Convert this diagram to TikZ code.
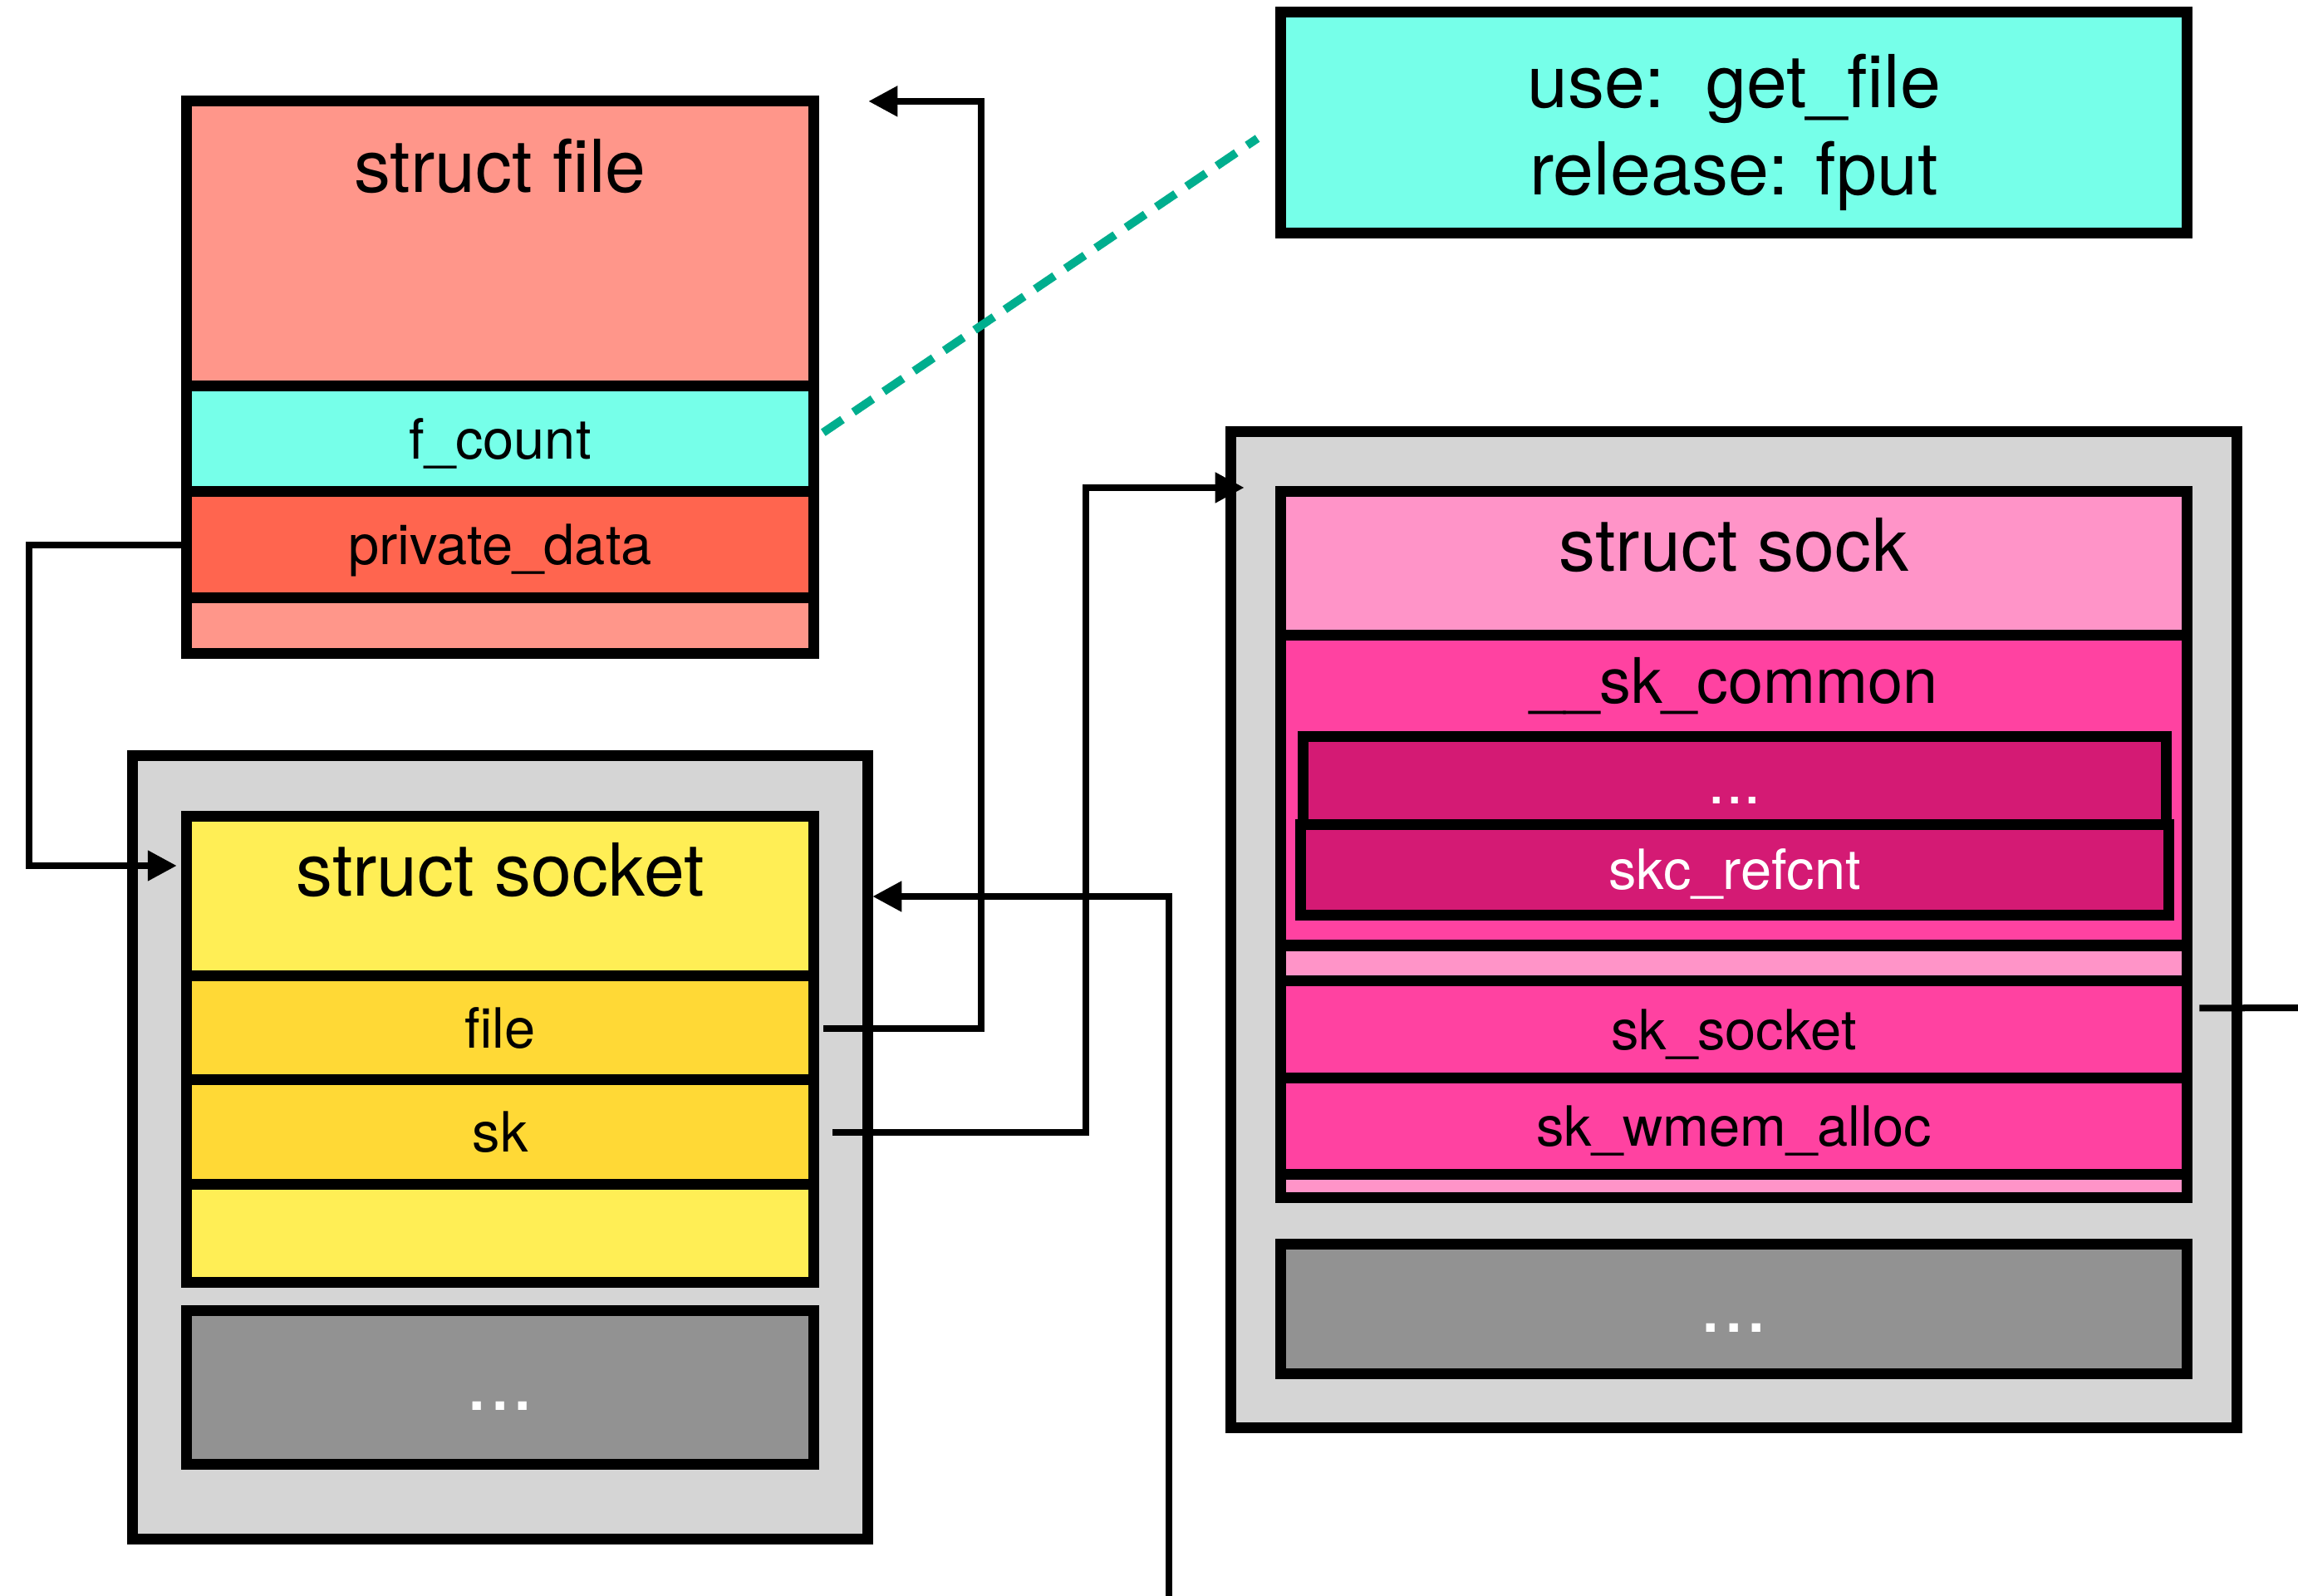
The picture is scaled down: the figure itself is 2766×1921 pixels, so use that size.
\documentclass[tikz,border=0pt]{standalone}
\usepackage{fontspec}
\setmainfont{TeX Gyre Heros}
\usetikzlibrary{arrows.meta, calc}

\definecolor{fileSalmon}{HTML}{FF968A}
\definecolor{countCyan}{HTML}{76FFE9}
\definecolor{privRed}{HTML}{FF654F}
\definecolor{socketYellow}{HTML}{FFEE55}
\definecolor{socketGold}{HTML}{FFD936}
\definecolor{wrapGray}{HTML}{D5D5D5}
\definecolor{moreGray}{HTML}{929292}
\definecolor{sockPink}{HTML}{FF94C8}
\definecolor{commonPink}{HTML}{FF42A1}
\definecolor{refMagenta}{HTML}{D41A74}
\definecolor{refTeal}{HTML}{00AE8E}

\tikzstyle{box}=[draw, rectangle, line width=0.13cm, outer sep=0pt, inner sep=0pt]
\tikzstyle{leftcol}=[minimum width=7.54cm]
\tikzstyle{rightcol}=[minimum width=10.9cm]
\tikzstyle{field}=[box, font=\fontsize{19}{23}\selectfont, text height=0.47cm, text depth=0pt]
\tikzstyle{heading}=[anchor=base, font=\fontsize{25}{30}\selectfont]
\tikzstyle{more}=[box, fill=moreGray, text=white, text height=0.55cm, text depth=0pt, font=\fontsize{28}{30}\selectfont]
\tikzstyle{line}=[line width=0.08cm]
\tikzstyle{arrow}=[line, -{Triangle[length=0.35cm, width=0.35cm]}]
\tikzstyle{refline}=[draw=refTeal, line width=0.1cm, dash pattern=on 0.28cm off 0.16cm]

\begin{document}
\begin{tikzpicture}[x=0.01cm, y=-0.01cm]
      \useasboundingbox (0,0) rectangle (2766,1921);

      % outer gray frames
      \node[box, fill=wrapGray, minimum width=8.84cm, minimum height=9.42cm] (sockWrap) at (602,1381) {};
      \node[box, fill=wrapGray, minimum width=12.10cm, minimum height=11.98cm] (skWrap) at (2087,1119) {};

      % struct file
      \node[box, leftcol, fill=fileSalmon, minimum height=3.43cm] (fileHead) at (602,293.5) {};
      \node[field, leftcol, fill=countCyan, minimum height=1.27cm] (fCount) at (602,528.5) {f\_count};
      \node[field, leftcol, fill=privRed, minimum height=1.28cm] (privData) at (602,656) {private\_data};
      \node[box, leftcol, fill=fileSalmon, minimum height=0.66cm] (filePad) at (602,753) {};
      \node[heading] (fileTitle) at (602,231) {struct file};

      % struct socket
      \node[box, leftcol, fill=socketYellow, minimum height=1.92cm] (socketHead) at (602,1079) {};
      \node[field, leftcol, fill=socketGold, minimum height=1.25cm] (socketFile) at (602,1237.5) {file};
      \node[field, leftcol, fill=socketGold, minimum height=1.26cm] (socketSk) at (602,1363) {sk};
      \node[box, leftcol, fill=socketYellow, minimum height=1.17cm] (socketPad) at (602,1484.5) {};
      \node[more, leftcol, minimum height=1.84cm] (socketMore) at (602,1670) {...};
      \node[heading] (socketTitle) at (602,1078) {struct socket};

      % struct sock
      \node[box, rightcol, fill=sockPink, minimum height=1.73cm] (skHead) at (2087,678.5) {};
      \node[box, rightcol, fill=commonPink, minimum height=3.73cm] (skCommon) at (2087,951.5) {};
      \node[more, fill=refMagenta, minimum width=10.38cm, minimum height=1.06cm, font=\fontsize{22}{26}\selectfont] (skDots) at (2088,940) {...};
      \node[field, fill=refMagenta, text=white, minimum width=10.44cm, minimum height=1.08cm] (skRefcnt) at (2088,1047) {skc\_refcnt};
      \node[box, rightcol, fill=sockPink, minimum height=0.43cm] (skPad) at (2087,1159.5) {};
      \node[field, rightcol, fill=commonPink, minimum height=1.17cm] (skSocket) at (2087,1239.5) {sk\_socket};
      \node[field, rightcol, fill=commonPink, minimum height=1.15cm] (skWmem) at (2087,1355.5) {sk\_wmem\_alloc};
      \node[box, rightcol, fill=sockPink, minimum height=0.28cm] (skTail) at (2087,1427) {};
      \node[more, rightcol, minimum height=1.55cm] (skMore) at (2087,1575.5) {...};
      \node[heading] (skTitle) at (2087,687) {struct sock};
      \node[heading, font=\fontsize{21.5}{26}\selectfont] (commonTitle) at (2087,846) {\_\_sk\_common};

      % refcount note
      \node[box, fill=countCyan, minimum width=10.9cm, minimum height=2.65cm] (useBox) at (2087,147.5) {};
      \node[align=center, font=\fontsize{25}{30}\selectfont] (useText) at (2087,159.5) {use:\ \ get\_file\\release: fput};

      \coordinate (outRight) at (2766,1213);
      \coordinate (inBottom) at (1407,1921);

      \draw[arrow, shorten >=0.12cm] (privData.west) -- ++(-190,0) |- ([yshift=0.37cm]socketHead.west);
      \draw[arrow, shorten <=0.12cm, shorten >=0.66cm] (socketFile.east) -- ++(202,0) |- (fileHead.north east);
      \draw[arrow, shorten <=0.23cm, shorten >=0.44cm] (socketSk.east) -- ++(328,0) |- ([yshift=0.05cm]skHead.north west);
      \draw[line, shorten <=0.15cm] ([yshift=0.26cm]skSocket.east) -- (outRight);
      \draw[arrow, shorten >=0.71cm] (inBottom) |- (socketHead.east);

      \draw[refline, shorten <=0.14cm, shorten >=0.34cm] (fCount.east) -- (useBox.west);

\end{tikzpicture}
\end{document}
